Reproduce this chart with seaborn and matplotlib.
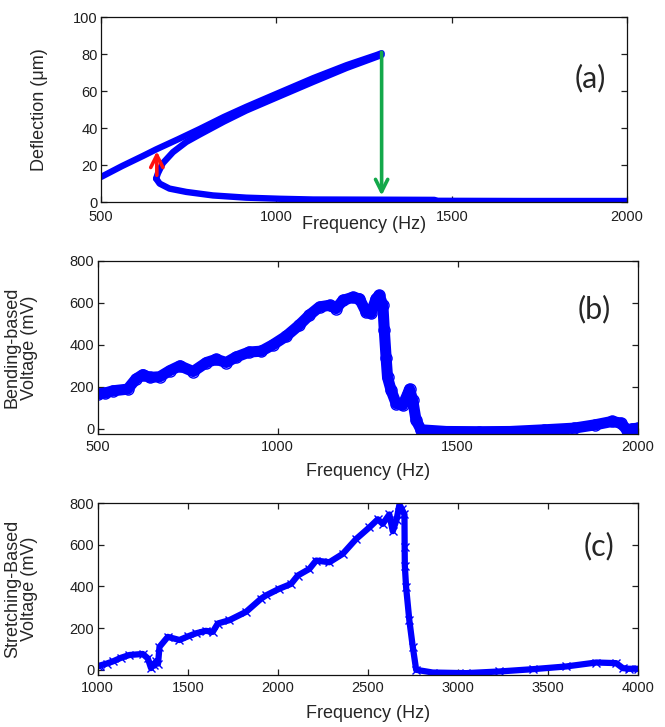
import matplotlib
matplotlib.use("Agg")
import matplotlib.pyplot as plt
import seaborn as sns


# Configuration
OUT_PNG = "out.png"
BLUE = "#0000ff"
RED = "#ff1010"
GREEN = "#13a84a"
TICK_COLOR = "#1e1e1e"

# Panel (a): deflection branches (Hz, um)
A_UPPER_FREQ = [500, 560, 620, 657, 720, 781, 850, 914, 1000, 1105, 1200, 1286, 1300]
A_UPPER_DEFL = [13.6, 19.5, 25.0, 28.5, 34, 39.5, 46, 51.5, 58.5, 67, 74, 79.5, 80.5]
A_MIDDLE_FREQ = [657, 662, 676, 705, 743, 781, 850, 914, 1000, 1105, 1200, 1300]
A_MIDDLE_DEFL = [12.7, 15.5, 21, 27, 32.5, 36.5, 43.5, 49.5, 56.5, 65, 72.5, 79.5]
A_LOWER_FREQ = [657, 667, 695, 743, 819, 914, 1010, 1105, 1300, 1450, 1460, 1700, 2000]
A_LOWER_DEFL = [12.7, 10, 7.3, 5.5, 3.6, 2.4, 1.8, 1.4, 1.3, 1.2, 0.7, 0.6, 0.6]

# Jump arrows in panel (a): frequency, start, end
RED_JUMP = (659, 14.5, 27.5)
GREEN_JUMP = (1300, 81, 3.5)

# Panel (b): bending-based voltage (Hz, mV)
B_FREQ = [500, 520, 542, 583, 606, 625, 644, 672, 700, 728, 765, 802, 829, 857,
          884, 921, 954, 986, 1023, 1060, 1088, 1116, 1144, 1162, 1181, 1208,
          1227, 1245, 1259, 1273, 1282, 1292, 1296, 1301, 1305, 1315, 1329,
          1347, 1361, 1366, 1375, 1384, 1398, 1468, 1560, 1645, 1740, 1823,
          1882, 1929, 1953, 1970, 1985, 2000]
B_VOLT = [166, 170, 181, 189, 237, 258, 245, 248, 277, 300, 273, 316, 331, 316,
          342, 366, 370, 400, 441, 495, 542, 581, 589, 573, 612, 627,
          620, 558, 550, 620, 636, 589, 470, 339, 245, 183, 120,
          112, 166, 189, 136, 42, -5, -13, -14, -13, -5, 3,
          19, 35, 27, -5, 0, 3]

# Panel (c): stretching-based voltage (Hz, mV)
C_FREQ = [1000, 1010, 1050, 1083, 1130, 1176, 1250, 1278, 1296, 1310, 1324, 1335,
          1343, 1389, 1454, 1500, 1546, 1600, 1639, 1667, 1731, 1824, 1907, 1935,
          2009, 2074, 2111, 2176, 2213, 2287, 2361, 2435, 2509, 2556, 2583, 2620,
          2639, 2660, 2676, 2690, 2704, 2705, 2706, 2713, 2731, 2750, 2769, 2861,
          3046, 3231, 3417, 3602, 3769, 3880, 3917, 3950, 4000]
C_VOLT = [16, 20, 30, 40, 58, 71, 76, 55, 8, 25, 40, 30,
          110, 158, 143, 160, 175, 187, 182, 222, 238, 278, 341, 357,
          389, 412, 452, 484, 524, 516, 556, 627, 683, 722, 700, 745,
          665, 720, 792, 770, 745, 590, 500, 397, 238, 111, 0, -13,
          -16, -8, 3, 16, 35, 32, 8, 5, 5]

A_XTICKS = [500, 1000, 1500, 2000]
A_YTICKS = [0, 20, 40, 60, 80, 100]
B_XTICKS = [500, 1000, 1500, 2000]
V_YTICKS = [0, 200, 400, 600, 800]
C_XTICKS = [1000, 1500, 2000, 2500, 3000, 3500, 4000]


# Shared MATLAB-like axis styling
def style_axis(ax, xticks, yticks, xlim, ylim, xpad=4):
    ax.set_xlim(*xlim)
    ax.set_ylim(*ylim)
    ax.set_xticks(xticks)
    ax.set_yticks(yticks)
    ax.tick_params(direction="in", top=True, right=True, bottom=True, left=True,
                   length=4, width=0.9, labelsize=10.5, colors=TICK_COLOR)
    ax.tick_params(axis="x", pad=xpad)
    ax.tick_params(axis="y", pad=2.5)
    for spine in ax.spines.values():
        spine.set_visible(True)
        spine.set_color("#111111")
        spine.set_linewidth(0.9)


def draw_panel_a(ax):
    for freq, defl in [(A_UPPER_FREQ, A_UPPER_DEFL),
                       (A_MIDDLE_FREQ, A_MIDDLE_DEFL),
                       (A_LOWER_FREQ, A_LOWER_DEFL)]:
        sns.lineplot(x=freq, y=defl, ax=ax, sort=False, estimator=None,
                     color=BLUE, linewidth=4.6, solid_capstyle="round")

    # up-jump and down-jump arrows
    for (f, y0, y1), col in [(RED_JUMP, RED), (GREEN_JUMP, GREEN)]:
        ax.annotate("", xy=(f, y1), xytext=(f, y0),
                    arrowprops=dict(arrowstyle="->", color=col, lw=2.6,
                                    mutation_scale=22, shrinkA=0, shrinkB=0))

    style_axis(ax, A_XTICKS, A_YTICKS, (500, 2000), (0, 100), xpad=6)
    ax.set_ylabel("Deflection (\u03bcm)", fontsize=13)
    ax.set_xlabel("Frequency (Hz)", fontsize=13)
    ax.yaxis.set_label_coords(-0.10, 0.5)
    ax.xaxis.set_label_coords(0.5, -0.075)
    ax.text(0.93, 0.67, "(a)", transform=ax.transAxes, fontsize=22,
            family="Lato", ha="center", va="center")


def draw_panel_b(ax):
    sns.lineplot(x=B_FREQ, y=B_VOLT, ax=ax, sort=False, estimator=None,
                 color=BLUE, linewidth=8, solid_joinstyle="round")
    sns.lineplot(x=B_FREQ, y=B_VOLT, ax=ax, sort=False, estimator=None,
                 color=BLUE, linewidth=1, marker="o", markersize=8,
                 markerfacecolor="none", markeredgecolor=BLUE, markeredgewidth=1)

    style_axis(ax, B_XTICKS, V_YTICKS, (500, 2000), (-25, 800))
    ax.set_ylabel("Bending-based\nVoltage (mV)", fontsize=13, linespacing=1.05)
    ax.set_xlabel("Frequency (Hz)", fontsize=13)
    ax.yaxis.set_label_coords(-0.11, 0.5)
    ax.xaxis.set_label_coords(0.5, -0.17)
    ax.text(0.92, 0.72, "(b)", transform=ax.transAxes, fontsize=22,
            family="Lato", ha="center", va="center")


def draw_panel_c(ax):
    sns.lineplot(x=C_FREQ, y=C_VOLT, ax=ax, sort=False, estimator=None,
                 color=BLUE, linewidth=4.5, solid_joinstyle="round")
    sns.lineplot(x=C_FREQ, y=C_VOLT, ax=ax, sort=False, estimator=None,
                 color=BLUE, linewidth=1, marker="x", markersize=6,
                 markeredgecolor=BLUE, markeredgewidth=1)

    style_axis(ax, C_XTICKS, V_YTICKS, (1000, 4000), (-25, 800))
    ax.set_ylabel("Stretching-Based\nVoltage (mV)", fontsize=13, linespacing=1.05)
    ax.set_xlabel("Frequency (Hz)", fontsize=13)
    ax.yaxis.set_label_coords(-0.11, 0.5)
    ax.xaxis.set_label_coords(0.5, -0.175)
    ax.text(0.928, 0.75, "(c)", transform=ax.transAxes, fontsize=22,
            family="Lato", ha="center", va="center")


def main():
    sns.set_style("white")
    plt.rcParams["font.family"] = ["Liberation Sans", "DejaVu Sans"]

    fig = plt.figure(figsize=(6.65, 7.27), dpi=100)
    ax_a = fig.add_axes([0.152, 0.722, 0.791, 0.2545])
    ax_b = fig.add_axes([0.147, 0.403, 0.812, 0.238])
    ax_c = fig.add_axes([0.147, 0.0715, 0.812, 0.2366])

    draw_panel_a(ax_a)
    draw_panel_b(ax_b)
    draw_panel_c(ax_c)

    fig.savefig(OUT_PNG, dpi=100)


if __name__ == "__main__":
    main()
